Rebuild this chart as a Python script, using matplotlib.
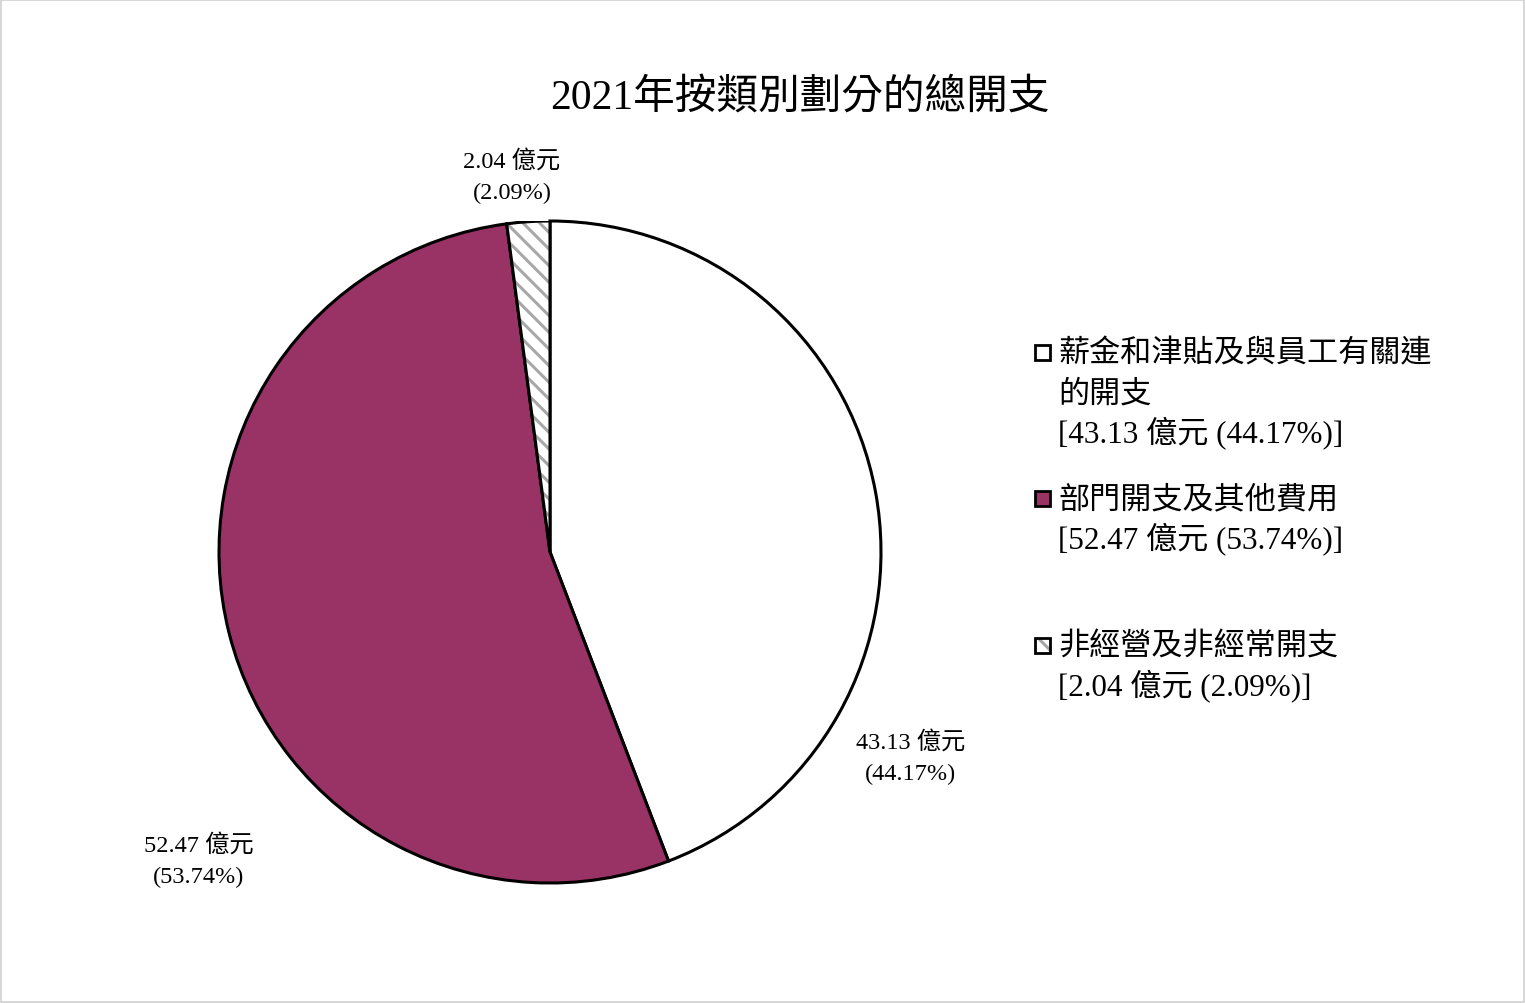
import matplotlib
matplotlib.use('Agg')
import matplotlib.pyplot as plt
from matplotlib.patches import Rectangle, Wedge

plt.rcParams['font.family'] = ['Liberation Serif', 'Noto Sans CJK TC']
plt.rcParams['hatch.linewidth'] = 2.2

# Dati
categorie = [['薪金和津貼及與員工有關連', '的開支'], ['部門開支及其他費用'], ['非經營及非經常開支']]
valori = [43.13, 52.47, 2.04]
percentuali = [44.17, 53.74, 2.09]
colori = ['#ffffff', '#993366', '#ffffff']

W, H = 1525, 1004
fig = plt.figure(figsize=(W / 100, H / 100), dpi=100)

# bordo esterno
fig.patches.append(Rectangle((0.0005, 0.001), 0.999, 0.998, transform=fig.transFigure,
                             fill=False, edgecolor='#d0d0d0', linewidth=1.2))

cx, cy, r = 550, 553, 331
ax = fig.add_axes([(cx - r) / W, (H - cy - r) / H, 2 * r / W, 2 * r / H])
ax.axis('off')

wedges, _ = ax.pie(valori, colors=colori, startangle=90, counterclock=False, radius=1,
                   wedgeprops=dict(edgecolor='black', linewidth=2.2))
ax.set_xlim(-1, 1)
ax.set_ylim(-1, 1)
ax.set_aspect('equal')

# spicchio tratteggiato
w = wedges[2]
w.set_hatch('\\\\')
w.set_edgecolor('#a8a8a8')
w.set_linewidth(0)
ax.add_patch(Wedge(w.center, w.r, w.theta1, w.theta2, fill=False, edgecolor='black', linewidth=2.2))


def px_text(x, y, s, **kw):
    fig.text(x / W, 1 - y / H, s, **kw)


# etichette sui dati (centro x, y della prima riga in pixel)
pos_etichette = [(911, 742), (199, 845), (512, 161)]
for (x, y), v, p in zip(pos_etichette, valori, percentuali):
    px_text(x, y, f'{v:.2f} 億元', ha='center', va='center', fontsize=17.5)
    px_text(x, y + 32, f'({p:.2f}%)', ha='center', va='center', fontsize=17.5)

px_text(800, 98, '2021年按類別劃分的總開支', ha='center', va='center', fontsize=30)

# legenda manuale
legenda_y = [352, 498, 645]
for i, (cat, v, p, col, ly) in enumerate(zip(categorie, valori, percentuali, colori, legenda_y)):
    righe = cat + [f'[{v:.2f} 億元 ({p:.2f}%)]']
    for k, riga in enumerate(righe):
        dy = 3 if k < len(cat) else 0
        px_text(1058, ly + 40.5 * k + dy, riga, ha='left', va='center', fontsize=22.4)
    x0, y0 = 1035 / W, 1 - (ly + 9) / H
    if i == 2:
        fig.patches.append(Rectangle((x0, y0), 15 / W, 15 / H, transform=fig.transFigure,
                                     facecolor='white', edgecolor='#a6a6a6', linewidth=0, hatch='\\'))
        fig.patches.append(Rectangle((x0, y0), 15 / W, 15 / H, transform=fig.transFigure,
                                     fill=False, edgecolor='black', linewidth=2))
    else:
        fig.patches.append(Rectangle((x0, y0), 15 / W, 15 / H, transform=fig.transFigure,
                                     facecolor=col, edgecolor='black', linewidth=2))

fig.savefig('out.png', dpi=100)
